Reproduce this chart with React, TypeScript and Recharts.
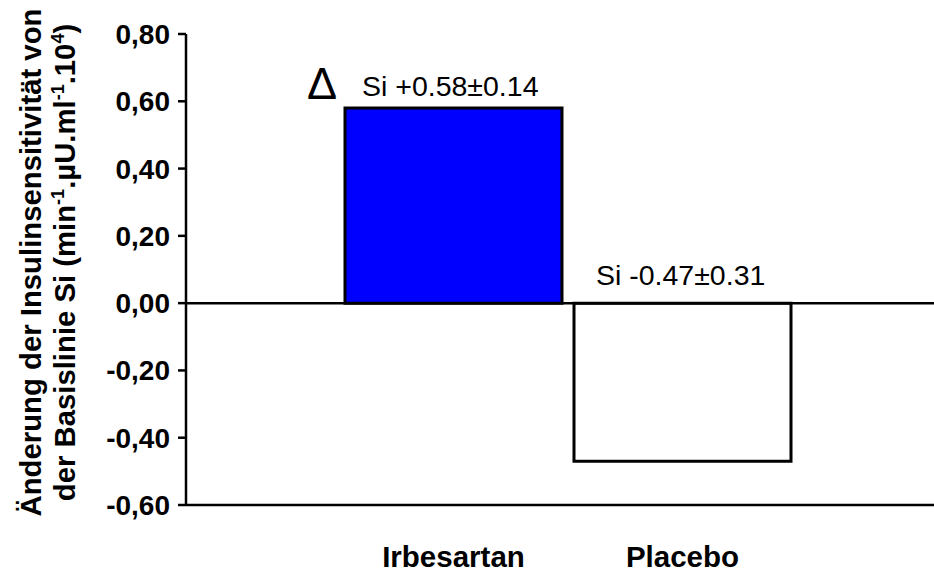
import React from 'react';
import { BarChart, Bar, XAxis, YAxis, ReferenceLine, Cell, LabelList } from 'recharts';

const categories = ['Irbesartan', 'Placebo'];
const changeValues = [0.58, -0.47];
const annotations = ['Si +0.58±0.14', 'Si -0.47±0.31'];
const yTicks = [-0.6, -0.4, -0.2, 0, 0.2, 0.4, 0.6, 0.8];
const deltaMark = 'Δ';
const yLabelLine1 = 'Änderung der Insulinsensitivität von';

const barFills = ['#0000FF', '#FFFFFF'];
const FONT = '"Liberation Sans", Arial, Helvetica, sans-serif';

const data = categories.map((c, i) => ({ name: c, value: changeValues[i], note: annotations[i] }));

const fmt = (v: number) => v.toFixed(2).replace('.', ',');

const renderNote = (props: any) => {
  const { x, y, height, value, index } = props;
  const h = Number(height);
  const top = Math.min(Number(y), Number(y) + h);
  const negative = data[index] && data[index].value < 0;
  return (
    <g>
      {index === 0 && (
        <text x={Number(x) - 38} y={top - 9} fontSize={45} fontFamily={FONT} fill="#000">
          {deltaMark}
        </text>
      )}
      <text
        x={Number(x) + (negative ? 22 : 17)}
        y={top - (negative ? 18 : 12)}
        fontSize={28.5}
        fontFamily={FONT}
        fill="#000"
      >
        {value}
      </text>
    </g>
  );
};

const renderYLabel = (props: any) => {
  const vb = props.viewBox || { x: 0, y: 34, width: 186, height: 471 };
  const cx = vb.x;
  const cy = vb.y + vb.height / 2 - 7;
  const common = { textAnchor: 'middle' as const, fontSize: 29.3, fontWeight: 'bold', fontFamily: FONT, fill: '#000' };
  return (
    <g>
      <text transform={`translate(${cx + 41}, ${cy}) rotate(-90)`} {...common}>
        {yLabelLine1}
      </text>
      <text transform={`translate(${cx + 75}, ${cy}) rotate(-90)`} {...common}>
        der Basislinie Si (min
        <tspan dy={-11} fontSize={18}>-1</tspan>
        <tspan dy={11}>.µU.ml</tspan>
        <tspan dy={-11} fontSize={18}>-1</tspan>
        <tspan dy={11}>.10</tspan>
        <tspan dy={-11} fontSize={18}>4</tspan>
        <tspan dy={11}>)</tspan>
      </text>
    </g>
  );
};

export default function App() {
  return (
    <div style={{ position: 'absolute', left: 0, top: 0, background: '#fff' }}>
      <BarChart
        width={934}
        height={572}
        data={data}
        margin={{ top: 34, right: 0, bottom: 0, left: 0 }}
        barSize={217}
      >
        <XAxis
          dataKey="name"
          height={67}
          padding={{ left: 153, right: 137 }}
          tickLine={false}
          tickSize={0}
          tickMargin={41}
          axisLine={{ stroke: '#000', strokeWidth: 2.5 }}
          tick={{ fontSize: 29.5, fontWeight: 'bold', fontFamily: FONT, fill: '#000' }}
        />
        <YAxis
          width={186}
          domain={[-0.6, 0.8]}
          ticks={yTicks}
          interval={0}
          tickFormatter={fmt}
          tickSize={8}
          tickMargin={8}
          axisLine={{ stroke: '#000', strokeWidth: 2.5 }}
          tickLine={{ stroke: '#000', strokeWidth: 2.5 }}
          tick={{ fontSize: 28, fontWeight: 'bold', fontFamily: FONT, fill: '#000' }}
          label={renderYLabel}
        />
        <Bar dataKey="value" stroke="#000" strokeWidth={3} isAnimationActive={false}>
          {data.map((d, i) => (
            <Cell key={d.name} fill={barFills[i]} />
          ))}
          <LabelList dataKey="note" content={renderNote} />
        </Bar>
        <ReferenceLine y={0} stroke="#000" strokeWidth={2.5} />
      </BarChart>
    </div>
  );
}
